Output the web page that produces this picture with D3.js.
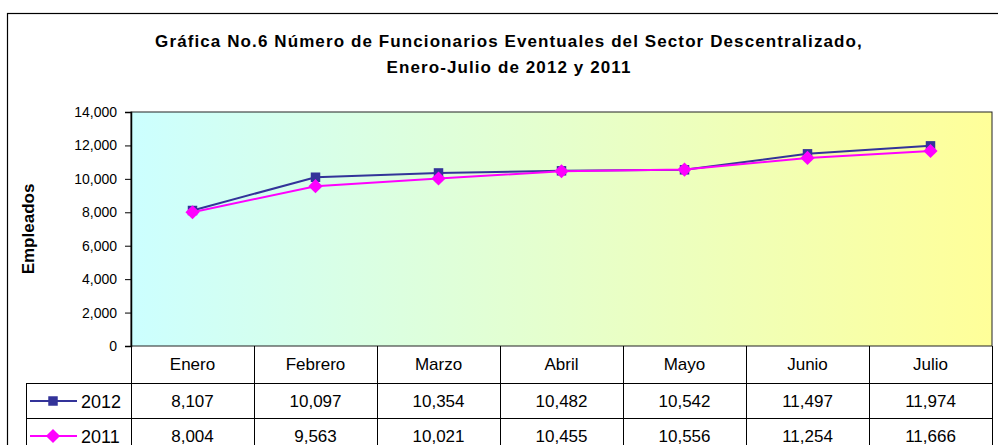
<!DOCTYPE html>
<html>
<head>
<meta charset="utf-8">
<script src="https://cdn.jsdelivr.net/npm/d3@7"></script>
<style>
  body { margin: 0; background: #fff; }
  text { font-family: Arial, 'Liberation Sans', sans-serif; fill: #000; }
</style>
</head>
<body>
<div id="graf"></div>
<script>
// Datos
meses = ['Enero', 'Febrero', 'Marzo', 'Abril', 'Mayo', 'Junio', 'Julio']
valores2012 = [8107, 10097, 10354, 10482, 10542, 11497, 11974]
valores2011 = [8004, 9563, 10021, 10455, 10556, 11254, 11666]
series = ['2012', '2011']
ticksY = [0, 2000, 4000, 6000, 8000, 10000, 12000, 14000]

// Configuración
ancho_total = 998
alto_total = 445
plot = { left: 131, right: 992, top: 112, bottom: 346 }
filas = [346, 383, 418, 453]
colores = { '2012': '#333399', '2011': '#ff00ff' }

svg = d3.select('#graf').append('svg')
        .attr('width', ancho_total)
        .attr('height', alto_total)

// borde exterior
svg.append('rect')
   .attr('x', 7.5).attr('y', 13.5)
   .attr('width', 1000).attr('height', 500)
   .attr('fill', 'none').attr('stroke', '#000').attr('stroke-width', 1.2)

// título
titulo = svg.append('text')
            .attr('text-anchor', 'middle')
            .style('font-weight', 'bold')
            .style('font-size', '17px')
            .style('letter-spacing', '1.1px')
titulo.append('tspan').attr('x', 509).attr('y', 47)
      .text('Gráfica No.6 Número de Funcionarios Eventuales del Sector Descentralizado,')
titulo.append('tspan').attr('x', 509).attr('y', 73)
      .text('Enero-Julio de 2012 y 2011')

// escalas
x = d3.scaleBand().domain(meses).range([plot.left, plot.right])
y = d3.scaleLinear().domain([0, 14000]).range([plot.bottom, plot.top])

// fondo degradado
grad = svg.append('defs').append('linearGradient')
          .attr('id', 'fondo').attr('x1', '0%').attr('x2', '100%')
grad.append('stop').attr('offset', '0%').attr('stop-color', '#ccffff')
grad.append('stop').attr('offset', '100%').attr('stop-color', '#ffff99')

svg.append('rect')
   .attr('x', plot.left).attr('y', plot.top)
   .attr('width', plot.right - plot.left)
   .attr('height', plot.bottom - plot.top)
   .attr('fill', 'url(#fondo)')
   .attr('stroke', '#222').attr('stroke-width', 1)

// eje y
yAxis = svg.append('g')
           .attr('transform', `translate(${plot.left}, 0)`)
           .call(d3.axisLeft(y).tickValues(ticksY).tickFormat(d3.format(',')).tickSize(6).tickPadding(8))
yAxis.select('.domain').attr('stroke', '#000').attr('stroke-width', 1.5)
yAxis.selectAll('text').style('font-size', '14px').attr('fill', '#000')

svg.append('text')
   .attr('transform', 'translate(34, 229) rotate(-90)')
   .attr('text-anchor', 'middle')
   .style('font-weight', 'bold')
   .style('font-size', '17px')
   .text('Empleados')

// líneas
datos = { '2012': valores2012, '2011': valores2011 }
linea = d3.line()
          .x((d, i) => x(meses[i]) + x.bandwidth() / 2)
          .y(d => y(d))

series.forEach(s => {
  svg.append('path')
     .datum(datos[s])
     .attr('d', linea)
     .attr('fill', 'none')
     .attr('stroke', colores[s])
     .attr('stroke-width', 2)
})

// cuadrado para 2012, rombo (cuadrado girado) para 2011
simbolo = { '2012': d3.symbol(d3.symbolSquare, 90)(), '2011': d3.symbol(d3.symbolSquare, 100)() }
giro = { '2012': '', '2011': ' rotate(45)' }
series.forEach(s => {
  svg.selectAll('.m' + s)
     .data(datos[s])
     .enter().append('path')
       .attr('class', 'm' + s)
       .attr('d', simbolo[s])
       .attr('transform', (d, i) => `translate(${x(meses[i]) + x.bandwidth() / 2}, ${y(d)})` + giro[s])
       .attr('fill', colores[s])
})

// tabla de datos
tabla = svg.append('g').attr('stroke', '#000').attr('stroke-width', 1)
meses.forEach(m => {
  tabla.append('line')
       .attr('x1', x(m) + 0.5).attr('x2', x(m) + 0.5)
       .attr('y1', filas[0]).attr('y2', filas[3])
})
tabla.append('line')
     .attr('x1', plot.right + 0.5).attr('x2', plot.right + 0.5)
     .attr('y1', filas[0]).attr('y2', filas[3])
tabla.append('line')
     .attr('x1', 26.5).attr('x2', 26.5)
     .attr('y1', filas[1]).attr('y2', filas[3])
;[filas[1], filas[2]].forEach(f => {
  tabla.append('line')
       .attr('x1', 26).attr('x2', plot.right)
       .attr('y1', f + 0.5).attr('y2', f + 0.5)
})

svg.selectAll('.mes')
   .data(meses)
   .enter().append('text')
     .attr('class', 'mes')
     .attr('x', d => x(d) + x.bandwidth() / 2)
     .attr('y', 370)
     .attr('text-anchor', 'middle')
     .style('font-size', '17px')
     .text(d => d)

fmt = d3.format(',')
series.forEach((s, k) => {
  fy = (filas[k + 1] + filas[k + 2]) / 2 + 6
  svg.selectAll('.v' + s)
     .data(datos[s])
     .enter().append('text')
       .attr('class', 'v' + s)
       .attr('x', (d, i) => x(meses[i]) + x.bandwidth() / 2)
       .attr('y', fy)
       .attr('text-anchor', 'middle')
       .style('font-size', '17px')
       .text(d => fmt(d))

  // leyenda en la tabla
  ly = (filas[k + 1] + filas[k + 2]) / 2 + 0.5
  svg.append('line')
     .attr('x1', 30).attr('x2', 77)
     .attr('y1', ly).attr('y2', ly)
     .attr('stroke', colores[s]).attr('stroke-width', 2)
  svg.append('path')
     .attr('d', simbolo[s])
     .attr('transform', `translate(53, ${ly})` + giro[s])
     .attr('fill', colores[s])
  svg.append('text')
     .attr('x', 81).attr('y', fy + 1)
     .style('font-size', '18px')
     .text(s)
})
</script>
</body>
</html>
